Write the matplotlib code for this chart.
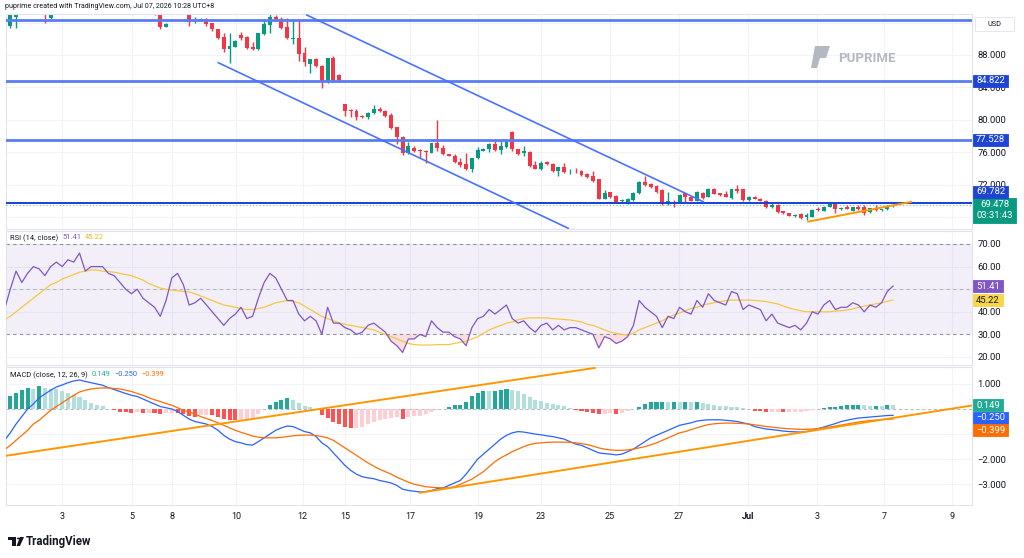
import numpy as np
import matplotlib
matplotlib.use("Agg")
import matplotlib.pyplot as plt
from matplotlib.patches import Rectangle, Polygon, Circle

nan = np.nan

# ---------------- data (4H candles) ----------------
opens = [
    91.9, 91.6, 92.7, nan, nan, nan, nan, 93.8, 92.6, nan,
    nan, nan, nan, nan, nan, nan, nan, nan, nan, nan,
    nan, nan, nan, nan, nan, nan, 93.6, 93.4, 91.48, nan,
    nan, nan, 93.3, 92.25, 92.3, 92.4, 91.9, 91.15, 90.17, 88.69,
    89.02, 90.45, 90.17, 88.93, 88.69, 90.54, 91.69, 92.72, 92.39, 91.4,
    90.0, 90.04, 88.19, 86.88, 87.45, 86.63, 84.78, 87.58, 85.52, 81.91,
    81.21, 81.05, 80.47, 80.39, 80.8, 81.33, 81.05, 80.55, 79.07, 77.92,
    75.95, 76.57, 76.28, 76.16, 75.95, 77.1, 76.57, 75.78, 75.58, 74.84,
    74.51, 73.9, 75.25, 76.2, 76.36, 77.01, 76.28, 76.69, 78.53, 76.36,
    75.95, 76.07, 74.43, 73.93, 74.84, 74.55, 73.68, 74.14, 73.56, 73.6,
    73.72, 73.31, 73.07, 72.66, 70.23, 71.05, 70.6, 69.99, 69.82, 70.11,
    70.93, 72.37, 72.08, 71.83, 71.34, 69.57, 69.78, 69.78, 70.93, 70.52,
    70.03, 71.01, 70.52, 71.42, 70.93, 70.81, 70.4, 71.42, 71.42, 70.11,
    70.52, 70.27, 70.03, 69.2, 69.45, 68.75, 68.47, 68.14, 68.34, 67.97,
    68.06, 69.04, 68.8, 69.29, 69.57, 69.0, 69.2, 68.8, 69.2, 69.2,
    68.59, 69.0, 68.84, 68.96, 69.33]
highs = [
    92.0, 93.0, 93.0, nan, nan, nan, nan, 94.0, 93.3, nan,
    nan, nan, nan, nan, nan, nan, nan, nan, nan, nan,
    nan, nan, nan, nan, nan, nan, 94.0, 93.6, 91.98, nan,
    nan, nan, 93.5, 92.7, 92.5, 92.5, 91.95, 91.2, 90.66, 90.66,
    89.85, 90.87, 90.3, 89.63, 90.66, 92.4, 93.1, 92.9, 92.7, 92.5,
    92.3, 92.3, 89.0, 87.5, 87.58, 86.76, 87.6, 87.87, 85.6, 81.95,
    81.29, 81.37, 80.6, 81.0, 81.83, 81.54, 81.21, 80.8, 79.1, 78.0,
    77.3, 76.77, 76.35, 76.3, 77.18, 79.98, 76.9, 75.8, 75.8, 75.25,
    75.87, 75.3, 76.6, 76.5, 77.18, 77.43, 77.51, 77.51, 78.62, 76.45,
    76.77, 76.2, 74.92, 74.92, 74.96, 74.63, 74.2, 74.63, 73.9, 74.0,
    73.8, 73.45, 73.72, 72.66, 71.34, 71.1, 70.7, 70.2, 70.3, 71.14,
    72.45, 73.07, 72.15, 71.95, 71.42, 71.14, 70.1, 70.8, 71.0, 70.6,
    71.2, 71.14, 71.55, 71.55, 71.01, 71.22, 71.5, 71.96, 71.5, 70.6,
    70.6, 70.35, 70.11, 69.7, 69.57, 68.8, 68.55, 68.34, 68.47, 68.47,
    68.96, 69.29, 69.37, 69.65, 69.65, 69.29, 69.49, 69.29, 69.49, 69.49,
    69.12, 69.49, 69.04, 69.45, 69.55]
lows = [
    91.6, 91.3, 91.3, nan, nan, nan, nan, 92.0, 92.4, nan,
    nan, nan, nan, nan, nan, nan, nan, nan, nan, nan,
    nan, nan, nan, nan, nan, nan, 92.9, 91.15, 91.4, nan,
    nan, nan, 91.6, 92.0, 92.2, 91.6, 91.0, 89.92, 88.4, 86.96,
    88.95, 89.84, 88.7, 88.6, 88.6, 90.5, 90.66, 92.2, 91.15, 89.92,
    89.4, 87.2, 86.63, 85.81, 86.55, 83.88, 84.6, 84.7, 84.7, 80.47,
    80.39, 79.98, 80.2, 80.06, 80.67, 80.97, 80.39, 78.83, 76.98, 75.66,
    75.78, 76.07, 75.25, 74.63, 75.86, 76.1, 75.66, 75.5, 74.63, 74.2,
    73.8, 73.6, 75.12, 76.1, 76.07, 76.2, 75.78, 76.48, 76.2, 75.66,
    75.53, 74.22, 73.89, 73.81, 74.43, 73.6, 73.07, 73.48, 73.3, 73.45,
    73.07, 72.78, 72.37, 70.19, 70.19, 70.31, 69.7, 69.8, 69.57, 70.03,
    70.85, 71.88, 71.6, 71.01, 69.49, 69.49, 69.2, 69.7, 69.9, 69.95,
    69.95, 70.2, 70.44, 70.8, 70.64, 70.44, 70.23, 71.0, 70.03, 69.99,
    70.2, 69.95, 69.08, 69.08, 68.55, 68.4, 68.1, 68.06, 67.81, 67.64,
    67.97, 68.8, 68.72, 69.2, 68.55, 68.88, 69.0, 68.75, 68.88, 68.26,
    68.5, 68.75, 68.8, 68.88, 69.3]
closes = [
    91.7, 92.9, 92.9, nan, nan, nan, nan, 93.3, 92.9, nan,
    nan, nan, nan, nan, nan, nan, nan, nan, nan, nan,
    nan, nan, nan, nan, nan, nan, 93.3, 91.5, 91.81, nan,
    nan, nan, 92.1, 92.3, 92.4, 91.8, 91.15, 90.13, 88.69, 89.10,
    89.71, 90.04, 88.89, 88.69, 90.66, 91.81, 92.72, 92.39, 91.28, 90.04,
    90.04, 88.11, 87.17, 87.45, 86.67, 84.78, 87.58, 84.9, 84.9, 81.13,
    81.05, 80.39, 80.39, 80.8, 81.33, 81.05, 80.47, 78.95, 77.92, 75.95,
    76.77, 76.2, 76.16, 75.99, 77.1, 76.48, 75.78, 75.58, 74.84, 74.43,
    73.9, 75.25, 76.28, 76.4, 77.01, 76.28, 76.77, 77.3, 76.36, 75.78,
    76.1, 74.34, 73.93, 74.71, 74.55, 73.68, 74.14, 73.52, 73.6, 73.52,
    73.19, 72.99, 72.5, 70.23, 71.01, 70.44, 69.82, 70.1, 70.19, 71.01,
    72.37, 71.96, 71.67, 71.14, 69.57, 70.03, 69.62, 70.72, 70.44, 70.03,
    71.14, 70.4, 71.42, 70.85, 70.72, 70.52, 71.42, 71.26, 70.11, 70.52,
    70.27, 70.03, 69.2, 69.53, 68.63, 68.47, 68.18, 68.26, 67.89, 68.26,
    68.88, 68.88, 69.29, 69.57, 69.0, 69.12, 69.04, 69.2, 69.04, 68.55,
    69.08, 68.84, 68.96, 69.37, 69.478]

rsi = [
    41, 50, 58, 53, 57, 60, 59, 56, 60, 62,
    60, 63, 62, 66, 58, 60, 60, 60, 57, 56,
    53, 50, 48, 50, 46, 44, 42, 38, 45, 55,
    57, 52, 43, 44, 46, 43, 40, 37, 34, 37,
    39, 42, 37, 38, 46, 53, 57, 55, 50, 45,
    45, 39, 36, 38, 36, 30, 42, 35, 35, 33,
    32, 30, 31, 34, 35, 33, 31, 27, 25, 22,
    28, 28, 30, 29, 36, 33, 31, 31, 29, 28,
    25, 33, 37, 38, 41, 39, 41, 43, 37, 35,
    36, 33, 31, 34, 35, 32, 34, 32, 33, 33,
    32, 31, 30, 24, 29, 28, 26, 27, 29, 34,
    45, 42, 40, 38, 33, 38, 37, 42, 40, 39,
    45, 42, 48, 45, 44, 43, 49, 48, 41, 43,
    42, 41, 36, 39, 35, 34, 33, 34, 32, 35,
    40, 39, 43, 45, 41, 42, 42, 44, 43, 40,
    43, 42, 44, 49, 51.41]
rsi_ma = [
    36.5, 38, 40, 42, 44, 46, 48, 50, 52, 53,
    54.5, 55.5, 56.5, 57.5, 58, 58.5, 58.5, 58, 57.8, 57.5,
    57, 56.5, 56, 55, 54, 52.5, 51.5, 50.5, 50, 49.6,
    49.3, 49, 48.8, 48, 47, 46, 45, 44, 43, 42.5,
    42, 41.5, 41, 41, 41.5, 42, 43, 44, 44.5, 45,
    44.5, 44, 42.5, 41, 39.5, 38, 37, 36, 35, 34.5,
    34, 33.5, 33, 32.5, 32, 31, 30, 29, 28, 27,
    26, 25.5, 25.3, 25.3, 25.3, 25.5, 25.5, 25.5, 26, 26.5,
    27, 28, 29, 30.5, 32, 33, 34, 35, 35.5, 36.5,
    37, 37.3, 37.3, 37.3, 37.3, 37, 36.8, 36.6, 36.4, 36,
    35.5, 34.5, 34, 33, 32, 31, 30.5, 30, 29.7, 30.5,
    32, 33, 34, 35, 36, 37.5, 38.6, 39.5, 40.5, 41.5,
    42, 43, 43.5, 44, 44.5, 45, 45.2, 45.2, 45.2, 45.2,
    45, 44.8, 44.5, 44, 43.5, 42.5, 41.7, 41, 40.5, 40,
    40, 40, 40, 40, 40.3, 40.5, 40.8, 41.3, 42, 42.5,
    43, 43.5, 44, 44.6, 45.22]

macd = [
    -1.25, -0.95, -0.6, -0.3, 0.0, 0.2, 0.45, 0.6, 0.75, 0.88,
    0.96, 1.05, 1.12, 1.16, 1.1, 1.05, 1.0, 0.95, 0.85, 0.78,
    0.7, 0.62, 0.55, 0.5, 0.4, 0.3, 0.2, 0.1, 0.05, 0.0,
    -0.1, -0.25, -0.4, -0.5, -0.55, -0.6, -0.7, -0.85, -1.05, -1.2,
    -1.3, -1.35, -1.42, -1.44, -1.3, -1.15, -1.0, -0.85, -0.75, -0.68,
    -0.7, -0.8, -0.9, -0.95, -1.1, -1.35, -1.5, -1.75, -2.0, -2.25,
    -2.45, -2.6, -2.7, -2.75, -2.78, -2.85, -2.9, -2.95, -3.05, -3.2,
    -3.25, -3.28, -3.31, -3.3, -3.25, -3.18, -3.15, -3.05, -2.95, -2.85,
    -2.6, -2.3, -2.0, -1.8, -1.6, -1.4, -1.2, -1.05, -0.95, -0.9,
    -0.92, -0.96, -1.0, -1.03, -1.07, -1.1, -1.15, -1.2, -1.3, -1.4,
    -1.45, -1.55, -1.65, -1.75, -1.78, -1.8, -1.83, -1.8, -1.7, -1.6,
    -1.45, -1.3, -1.15, -1.05, -0.95, -0.85, -0.75, -0.65, -0.6, -0.55,
    -0.48, -0.45, -0.43, -0.43, -0.43, -0.45, -0.47, -0.5, -0.55, -0.6,
    -0.7, -0.75, -0.8, -0.82, -0.85, -0.88, -0.9, -0.91, -0.92, -0.9,
    -0.85, -0.78, -0.72, -0.65, -0.58, -0.5, -0.45, -0.4, -0.36, -0.34,
    -0.32, -0.3, -0.28, -0.26, -0.250]
signal = [
    -1.63, -1.45, -1.25, -1.05, -0.85, -0.6, -0.45, -0.25, -0.05, 0.1,
    0.25, 0.4, 0.55, 0.68, 0.75, 0.8, 0.83, 0.84, 0.84, 0.82,
    0.8, 0.75, 0.7, 0.62, 0.55, 0.45, 0.37, 0.3, 0.22, 0.15,
    0.05, -0.05, -0.12, -0.2, -0.3, -0.38, -0.46, -0.55, -0.65, -0.75,
    -0.85, -0.93, -1.0, -1.08, -1.12, -1.15, -1.15, -1.15, -1.13, -1.1,
    -1.07, -1.05, -1.04, -1.04, -1.06, -1.1, -1.15, -1.25, -1.4, -1.55,
    -1.7, -1.85, -2.0, -2.15, -2.28, -2.4, -2.5, -2.6, -2.72, -2.82,
    -2.92, -3.0, -3.05, -3.1, -3.12, -3.14, -3.15, -3.14, -3.1, -3.0,
    -2.9, -2.8, -2.65, -2.5, -2.3, -2.1, -1.95, -1.83, -1.7, -1.6,
    -1.5, -1.42, -1.37, -1.35, -1.33, -1.32, -1.32, -1.32, -1.33, -1.35,
    -1.38, -1.42, -1.48, -1.55, -1.6, -1.63, -1.65, -1.65, -1.63, -1.6,
    -1.55, -1.5, -1.43, -1.35, -1.25, -1.15, -1.05, -0.95, -0.9, -0.82,
    -0.75, -0.68, -0.62, -0.59, -0.57, -0.56, -0.56, -0.57, -0.58, -0.6,
    -0.63, -0.66, -0.7, -0.72, -0.75, -0.77, -0.79, -0.8, -0.81, -0.81,
    -0.8, -0.78, -0.75, -0.72, -0.68, -0.64, -0.6, -0.56, -0.52, -0.49,
    -0.46, -0.44, -0.42, -0.41, -0.399]

# horizontal levels and trend lines (candle index, price)
levels = [92.31, 84.822, 77.528]
level_main = 69.782
channel_upper = ([52.4, 121.1], [92.92, 69.90])
channel_lower = ([37.05, 97.7], [87.04, 66.62])
support_line = ([139.3, 157.1], [67.44, 69.87])
macd_line_a = ([0.1, 102.3], [-1.87, 1.64])
macd_line_b = ([72.0, 168.2], [-3.34, 0.16])

tick_pos = [9.97, 22.1, 29.0, 40.1, 51.7, 59.0, 70.3, 82.1, 93.0, 104.9,
            116.9, 128.9, 140.8, 152.4, 164.2]
tick_lab = ['3', '5', '8', '10', '12', '15', '17', '19', '23', '25',
            '27', 'Jul', '3', '7', '9']
price_ticks = [68, 72, 76, 80, 84, 88, 92]
price_hidden = [68, 92]
rsi_ticks = [20, 30, 40, 50, 60, 70]
rsi_hidden = [50]
macd_ticks = [-3, -2, -1, 0, 1]
macd_hidden = [-1, 0]

# ---------------- figure ----------------
plt.rcParams['font.family'] = ['Roboto', 'DejaVu Sans']
W, H = 1024, 558
fig = plt.figure(figsize=(W / 100, H / 100), dpi=100)
fig.patch.set_facecolor('white')

XMIN, XMAX = 0.26, 167.68
PL, PR = 6, 972
GRID = '#f0f3fa'
SPINE = '#e0e3eb'
TXT = '#131722'
UP, DN = '#089981', '#F23645'


def money(v, d=3):
    s = f"{abs(v):.{d}f}"
    return ("\u2212" + s) if v < 0 else s


def mk(top, bot, ylim, yticks, hidden, d):
    ax = fig.add_axes([PL / W, 1 - bot / H, (PR - PL) / W, (bot - top) / H])
    ax.set_facecolor('white')
    for s in ax.spines.values():
        s.set_color(SPINE)
        s.set_linewidth(0.8)
    ax.set_xlim(XMIN, XMAX)
    ax.set_ylim(*ylim)
    ax.set_xticks(tick_pos)
    ax.tick_params(axis='x', length=0, labelbottom=False)
    ax.yaxis.tick_right()
    ax.set_yticks(yticks)
    ax.set_yticklabels(['' if v in hidden else money(v, d) for v in yticks])
    ax.tick_params(axis='y', length=0, labelsize=6.8, labelcolor=TXT, pad=4)
    ax.grid(True, color=GRID, lw=0.8, zorder=0)
    ax.set_axisbelow(True)
    return ax


ax_p = mk(14, 229, (66.53, 93.05), price_ticks, price_hidden, 3)
ax_r = mk(231, 365, (16.46, 75.75), rsi_ticks, rsi_hidden, 2)
ax_m = mk(367, 505, (-3.83, 1.677), macd_ticks, macd_hidden, 3)

idx = np.arange(len(closes))
o = np.array(opens, float)
h = np.array(highs, float)
l = np.array(lows, float)
c = np.array(closes, float)
ok = ~np.isnan(o)
col = np.where(c >= o, UP, DN)

# candles
ax_p.vlines(idx[ok], l[ok], h[ok], colors=col[ok], lw=1, zorder=2)
body = np.maximum(np.abs(c - o), 0.06)
ax_p.bar(idx[ok], body[ok], bottom=np.minimum(o, c)[ok], width=0.68,
         color=col[ok], zorder=2, linewidth=0)

# levels
for lv in levels:
    ax_p.axhline(lv, color='#5b7cf0', lw=2.0, zorder=3)
ax_p.axhline(level_main, color='#1a3fd6', lw=1.4, zorder=3)
ax_p.axhline(c[-1], color=UP, lw=0.8, ls=(0, (1, 2)), alpha=0.6, zorder=3)
for ln in (channel_upper, channel_lower):
    ax_p.plot(ln[0], ln[1], color='#4a72ff', lw=1.2, zorder=3)
ax_p.plot(support_line[0], support_line[1], color='#FF9800', lw=1.4, zorder=3)

# RSI
ra = np.array(rsi, float)
ax_r.axhspan(30, 70, color='#7E57C2', alpha=0.09, lw=0, zorder=1)
for lv, a in ((70, 0.8), (50, 0.45), (30, 0.8)):
    ax_r.axhline(lv, color='#787B86', lw=0.8, ls=(0, (3, 3)), alpha=a, zorder=1.5)
ax_r.fill_between(idx, ra, 30, where=ra < 30, interpolate=True,
                  color='#F23645', alpha=0.16, lw=0, zorder=2)
ax_r.plot(idx, rsi_ma, color='#F5C842', lw=0.9, zorder=3)
ax_r.plot(idx, ra, color='#7E57C2', lw=0.9, zorder=4)

# MACD
ma = np.array(macd, float)
sg = np.array(signal, float)
hist = ma - sg
hcol = []
for i, v in enumerate(hist):
    prev = hist[i - 1] if i > 0 else v
    if v >= 0:
        hcol.append('#26A69A' if v >= prev else '#B2DFDB')
    else:
        hcol.append('#FF5252' if v < prev else '#FFCDD2')
ax_m.axhline(0, color='#787B86', lw=0.7, ls=(0, (3, 3)), alpha=0.5, zorder=1)
ax_m.bar(idx, hist, width=0.7, color=hcol, lw=0, zorder=2)
ax_m.plot(idx, ma, color='#2962FF', lw=0.9, zorder=3)
ax_m.plot(idx, sg, color='#FF6D00', lw=0.9, zorder=3)
for ln in (macd_line_a, macd_line_b):
    ax_m.plot(ln[0], ln[1], color='#FF9800', lw=1.4, zorder=4)

# x labels
ax_m.set_xticklabels(tick_lab)
ax_m.tick_params(axis='x', labelbottom=True, labelsize=6.5, labelcolor=TXT, pad=5)
for t in ax_m.get_xticklabels():
    if t.get_text() == 'Jul':
        t.set_fontweight('bold')


# ---------------- labels / boxes ----------------
def ypx(ax, v):
    return H - ax.transData.transform((XMIN, v))[1]


def box(x0, x1, yc, hh, fc, txt, tc='white', fs=6.8, ec=None):
    fig.add_artist(Rectangle((x0 / W, 1 - (yc + hh / 2) / H), (x1 - x0) / W, hh / H,
                             transform=fig.transFigure, facecolor=fc,
                             edgecolor=ec if ec else fc, lw=0.6, zorder=5))
    if txt:
        fig.text(((x0 + x1) / 2) / W, 1 - yc / H, txt, ha='center', va='center',
                 color=tc, fontsize=fs, zorder=6)


BX0 = 973
cy = ypx(ax_p, c[-1])
top = cy - 7
box(BX0, 1016, top + 12.5, 25, UP, None)
fig.text((BX0 + 1016) / 2 / W, 1 - (top + 6.5) / H, f"{c[-1]:.3f}", ha='center',
         va='center', color='white', fontsize=6.8, zorder=6)
fig.text((BX0 + 1016) / 2 / W, 1 - (top + 17.5) / H, "03:31:43", ha='center',
         va='center', color='white', fontsize=6.8, zorder=6)
box(BX0, 1008, min(ypx(ax_p, level_main), top - 6.5), 12, '#1E44D3', f"{level_main:.3f}")
for lv in levels[1:]:
    box(BX0, 1008, ypx(ax_p, lv), 12, '#1E44D3', f"{lv:.3f}")
box(975, 1014, 24, 14, 'white', 'USD', tc=TXT, fs=5.3, ec=SPINE)

box(BX0, 1003, ypx(ax_r, ra[-1]), 12, '#7E57C2', f"{ra[-1]:.2f}")
box(BX0, 1003, max(ypx(ax_r, rsi_ma[-1]), ypx(ax_r, ra[-1]) + 13), 12, '#F9D54A',
    f"{rsi_ma[-1]:.2f}", tc=TXT)

y1 = ypx(ax_m, hist[-1])
y2 = max(ypx(ax_m, ma[-1]), y1 + 12.5)
y3 = max(ypx(ax_m, sg[-1]), y2 + 12.5)
box(BX0, 1003, y1, 12, '#22AB94', money(hist[-1]))
box(BX0, 1008, y2, 12, '#2962FF', money(ma[-1]))
box(BX0, 1008, y3, 12, '#FF6D00', money(sg[-1]))

# titles: sequential coloured segments, measured
renderer = fig.canvas.get_renderer()


def segments(x, y, parts, fs=5.4, gap=4):
    for txt, colr in parts:
        t = fig.text(x / W, 1 - y / H, txt, fontsize=fs, color=colr, va='center', ha='left')
        bb = t.get_window_extent(renderer)
        x += bb.width + gap


segments(5, 7, [("puprime created with TradingView.com, Jul 07, 2026 10:28 UTC+8", TXT)], fs=5.1)
segments(10, 238, [("RSI (14, close)", TXT), (f"{ra[-1]:.2f}", '#7E57C2'),
                   (f"{rsi_ma[-1]:.2f}", '#E8B923')])
segments(10, 375, [("MACD (close, 12, 26, 9)", TXT), (money(hist[-1]), '#22AB94'),
                   (money(ma[-1]), '#2962FF'), (money(sg[-1]), '#FF6D00')])

# PUPRIME watermark
gray = '#b4b8c0'
fig.add_artist(Polygon([(815 / W, 1 - 46 / H), (830 / W, 1 - 46 / H), (826 / W, 1 - 58 / H),
                        (820 / W, 1 - 58 / H), (817 / W, 1 - 68 / H), (811 / W, 1 - 68 / H)],
                       closed=True, transform=fig.transFigure, fc=gray, ec='none', zorder=1))
fig.text(838 / W, 1 - 58 / H, "PUPRIME", fontsize=9.5, fontweight='bold', color=gray,
         va='center', ha='left')

# TradingView logo
fig.add_artist(Rectangle((8 / W, 1 - 540 / H), 8 / W, 3 / H, transform=fig.transFigure,
                         fc=TXT, ec='none'))
fig.add_artist(Rectangle((12 / W, 1 - 546 / H), 3.5 / W, 9 / H, transform=fig.transFigure,
                         fc=TXT, ec='none'))
fig.add_artist(Circle((18.5 / W, 1 - 538.5 / H), 1.6 / W, transform=fig.transFigure,
                      fc=TXT, ec='none'))
fig.add_artist(Polygon([(20 / W, 1 - 537 / H), (24 / W, 1 - 537 / H), (20 / W, 1 - 546 / H),
                        (16.5 / W, 1 - 546 / H)], closed=True, transform=fig.transFigure,
                       fc=TXT, ec='none'))
fig.text(26 / W, 1 - 541.5 / H, "TradingView", fontsize=8.3, fontweight='bold', color=TXT,
         va='center', ha='left')

fig.savefig("out.png", dpi=100, facecolor='white')
